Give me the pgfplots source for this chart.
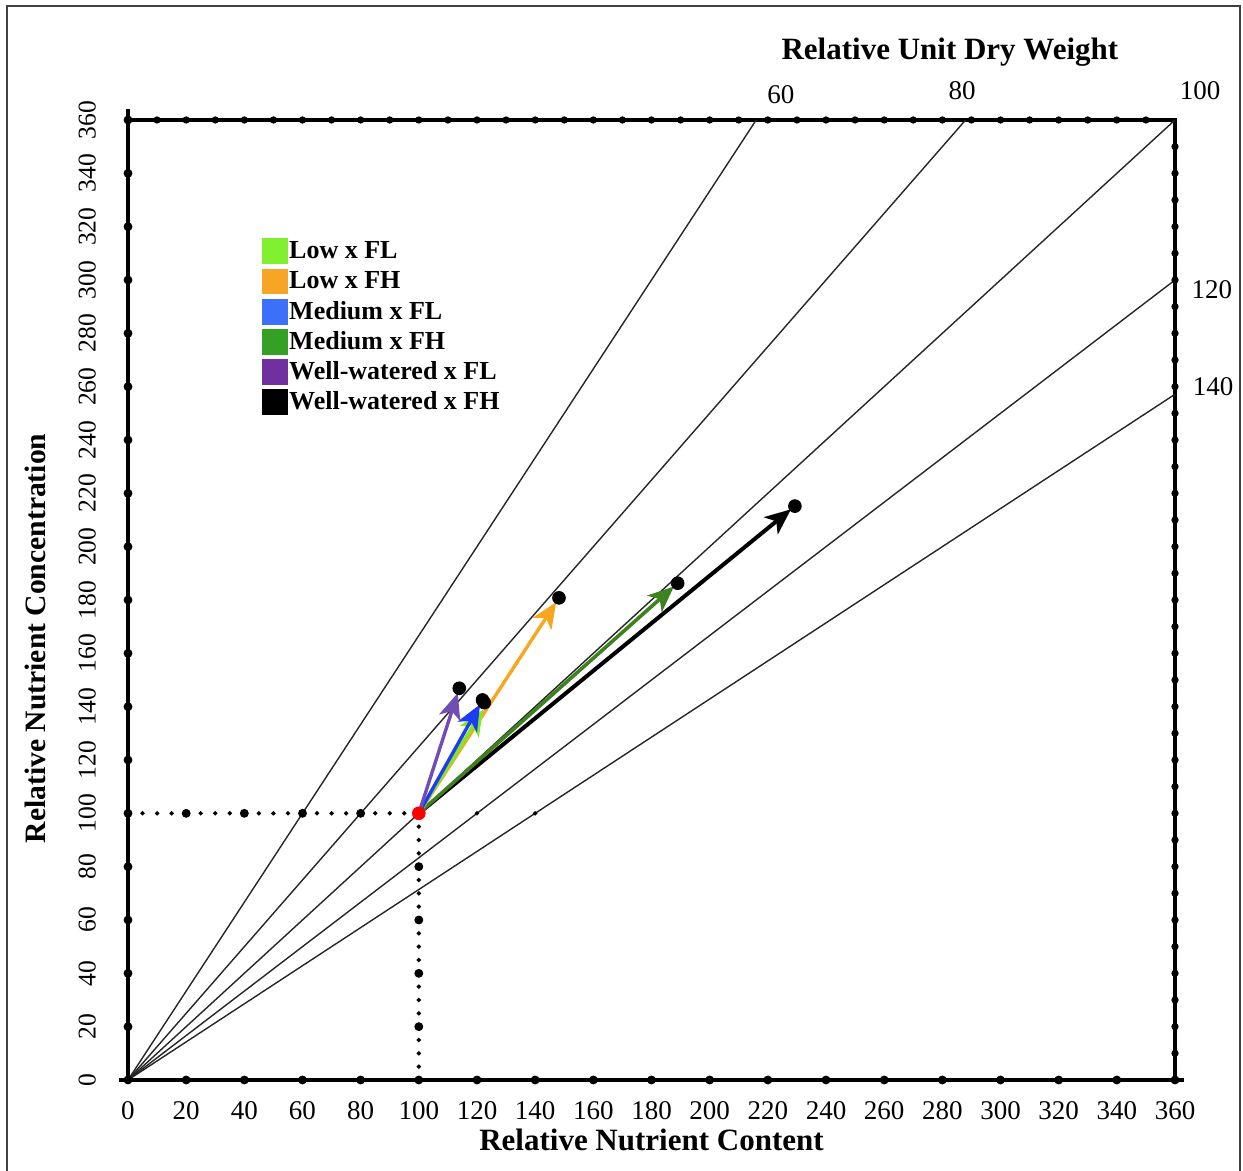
\documentclass[border=0pt]{standalone}
\usepackage{pgfplots}
\pgfplotsset{compat=1.18}
\usepackage{fontspec}
\setmainfont{Liberation Serif}
\usetikzlibrary{arrows.meta,calc}
\definecolor{cLowFL}{RGB}{120,236,40}
\definecolor{cLowFH}{RGB}{248,166,30}
\definecolor{cMedFL}{RGB}{30,60,245}
\definecolor{cMedFH}{RGB}{62,130,32}
\definecolor{cWFL}{RGB}{112,78,180}
\definecolor{lLowFL}{RGB}{128,240,48}
\definecolor{lLowFH}{RGB}{246,166,36}
\definecolor{lMedFL}{RGB}{60,112,250}
\definecolor{lMedFH}{RGB}{52,160,36}
\definecolor{lWFL}{RGB}{112,48,160}
\begin{document}
\begin{tikzpicture}
\begin{axis}[
  scale only axis, width=523.5pt, height=480pt,
  xmin=0, xmax=360, ymin=0, ymax=360,
  xtick={0,20,...,360}, ytick={0,20,...,360},
  major tick length=0pt,
  xticklabel pos=lower, yticklabel pos=left,
  axis line style={line width=2.4pt},
  clip=false,
  /pgf/number format/assume math mode=true,
  xticklabel style={font=\fontsize{13.5}{15}\selectfont},
  yticklabel style={font=\fontsize{12.8}{15}\selectfont, rotate=90, anchor=south},
  xticklabel shift=7pt, yticklabel shift=12.5pt,
  xlabel={Relative Nutrient Content},
  ylabel={Relative Nutrient Concentration},
  xlabel style={font=\bfseries\fontsize{15.5}{17}\selectfont, at={(rel axis cs:0.5,-0.0625)}, anchor=center},
  ylabel style={font=\bfseries\fontsize{14.8}{17}\selectfont, at={(rel axis cs:-0.0888,0.46)}, anchor=center},
  legsq/.style={legend image code/.code={\fill (0pt,-6.2pt) rectangle (12.5pt,6.2pt);}},
  legend style={at={(rel axis cs:0.128,0.877)}, anchor=north west, draw=none, fill=none,
    inner sep=0pt, row sep=2.3pt, font=\bfseries\fontsize{13}{14}\selectfont,
    cells={anchor=west}, nodes={inner xsep=0.5pt, inner ysep=0pt}},
]
% unit dry weight lines
\addplot[forget plot, black!85, line width=0.7pt] coordinates {(0,0) (216,360)};
\addplot[forget plot, black!85, line width=0.7pt] coordinates {(0,0) (288,360)};
\addplot[forget plot, black!85, line width=0.7pt] coordinates {(0,0) (360,360)};
\addplot[forget plot, black!85, line width=0.7pt] coordinates {(0,0) (360,300)};
\addplot[forget plot, black!85, line width=0.7pt] coordinates {(0,0) (360,257.14)};
% axis extensions
\draw[line width=2.4pt] (axis cs:-3,0) -- (axis cs:363,0);
\draw[line width=2.4pt] (axis cs:0,0) -- (axis cs:0,364);
% frame tick dots
\addplot[forget plot, only marks, mark=*, mark size=2pt, black] coordinates {
(0,0)(20,0)(40,0)(60,0)(80,0)(100,0)(120,0)(140,0)(160,0)(180,0)(200,0)(220,0)(240,0)(260,0)(280,0)(300,0)(320,0)(340,0)(360,0)
(0,20)(0,40)(0,60)(0,80)(0,100)(0,120)(0,140)(0,160)(0,180)(0,200)(0,220)(0,240)(0,260)(0,280)(0,300)(0,320)(0,340)(0,360)};
\addplot[forget plot, only marks, mark=*, mark size=1.6pt, black] coordinates {
(10,360)(20,360)(30,360)(40,360)(50,360)(60,360)(70,360)(80,360)(90,360)(100,360)(110,360)(120,360)(130,360)(140,360)(150,360)(160,360)(170,360)(180,360)(190,360)(200,360)(210,360)(220,360)(230,360)(240,360)(250,360)(260,360)(270,360)(280,360)(290,360)(300,360)(310,360)(320,360)(330,360)(340,360)(350,360)
(360,10)(360,20)(360,30)(360,40)(360,50)(360,60)(360,70)(360,80)(360,90)(360,100)(360,110)(360,120)(360,130)(360,140)(360,150)(360,160)(360,170)(360,180)(360,190)(360,200)(360,210)(360,220)(360,230)(360,240)(360,250)(360,260)(360,270)(360,280)(360,290)(360,300)(360,310)(360,320)(360,330)(360,340)(360,350)};
% dotted guide lines
\addplot[forget plot, only marks, mark=*, mark size=0.9pt, black] coordinates {
(5,100)(10,100)(15,100)(25,100)(30,100)(35,100)(45,100)(50,100)(55,100)(65,100)(70,100)(75,100)(85,100)(90,100)(95,100)
(100,5)(100,10)(100,15)(100,25)(100,30)(100,35)(100,45)(100,50)(100,55)(100,65)(100,70)(100,75)(100,85)(100,90)(100,95)
(120,100)(140,100)};
\addplot[forget plot, only marks, mark=*, mark size=2pt, black] coordinates {
(20,100)(40,100)(60,100)(80,100)(100,20)(100,40)(100,60)(100,80)};
% arrows
\addplot[forget plot, black, line width=2pt, -{Stealth[length=13pt,width=11pt,inset=3.5pt]}, shorten >=2.5pt] coordinates {(100,100) (229.3,215.2)};
\addplot[forget plot, cMedFH, line width=1.8pt, -{Stealth[length=13pt,width=11pt,inset=3.5pt]}, shorten >=2.5pt] coordinates {(100,100) (189,186.3)};
\addplot[forget plot, cLowFH, line width=1.7pt, -{Stealth[length=13pt,width=11pt,inset=3.5pt]}, shorten >=2.5pt] coordinates {(100,100) (148.2,180.8)};
\addplot[forget plot, cLowFL, line width=1.7pt, -{Stealth[length=13pt,width=11pt,inset=3.5pt]}, shorten >=2.5pt] coordinates {(100,100) (123,140.5)};
\addplot[forget plot, cMedFL, line width=1.7pt, -{Stealth[length=13pt,width=11pt,inset=3.5pt]}, shorten >=2.5pt] coordinates {(100,100) (121.9,142.5)};
\addplot[forget plot, cWFL, line width=1.7pt, -{Stealth[length=13pt,width=11pt,inset=3.5pt]}, shorten >=2.5pt] coordinates {(100,100) (113.9,146.9)};
% end dots
\addplot[forget plot, only marks, mark=*, mark size=3.2pt, black] coordinates {
(229.3,215.2)(189,186.3)(148.2,180.8)(122.5,141.5)(121.9,142.5)(113.9,146.9)};
\addplot[forget plot, only marks, mark=*, mark size=3.2pt, red] coordinates {(100,100)};
% legend
\addlegendimage{legsq, lLowFL}\addlegendentry{Low x FL}
\addlegendimage{legsq, lLowFH}\addlegendentry{Low x FH}
\addlegendimage{legsq, lMedFL}\addlegendentry{Medium x FL}
\addlegendimage{legsq, lMedFH}\addlegendentry{Medium x FH}
\addlegendimage{legsq, lWFL}\addlegendentry{Well-watered x FL}
\addlegendimage{legsq, black}\addlegendentry{Well-watered x FH}
% unit dry weight labels
\node[font=\fontsize{13.5}{15}\selectfont] at (axis cs:224.5,369.4) {60};
\node[font=\fontsize{13.5}{15}\selectfont] at (axis cs:286.8,370.9) {80};
\node[font=\fontsize{13.5}{15}\selectfont] at (axis cs:368.6,370.9) {100};
\node[font=\fontsize{13.5}{15}\selectfont] at (axis cs:372.7,296.2) {120};
\node[font=\fontsize{13.5}{15}\selectfont] at (axis cs:373.1,259.9) {140};
\node[font=\bfseries\fontsize{15.5}{17}\selectfont] at (axis cs:282.6,385.5) {Relative Unit Dry Weight};
\end{axis}
\pgfresetboundingbox
\path[use as bounding box] ($(current axis.south west)+(-64pt,-45.5pt)$) rectangle ($(current axis.south west)+(557.5pt,540pt)$);
\draw[line width=0.6pt, black!75] ($(current axis.south west)+(-60.5pt,-46pt)$) -- ($(current axis.south west)+(-60.5pt,537pt)$) -- ($(current axis.south west)+(556pt,537pt)$) -- ($(current axis.south west)+(556pt,-46pt)$);
\end{tikzpicture}
\end{document}
